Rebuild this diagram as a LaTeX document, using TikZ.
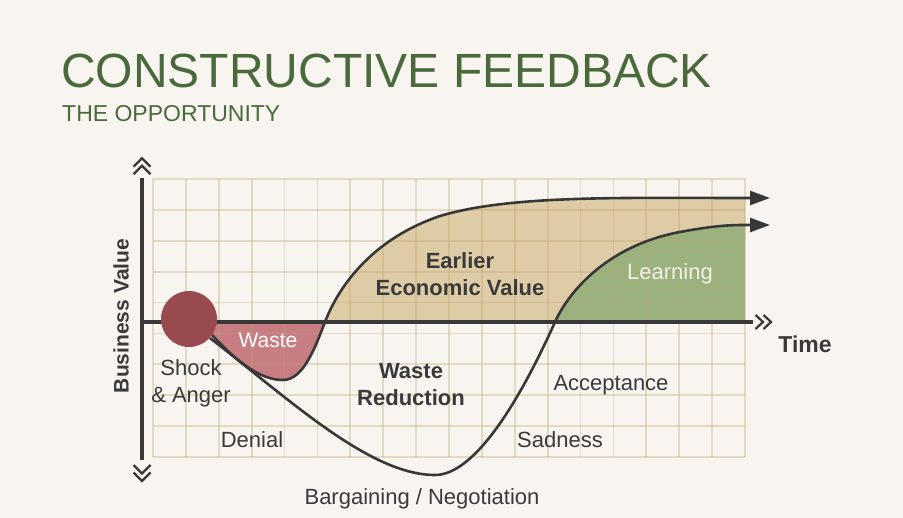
\documentclass[tikz,border=0pt]{standalone}
\usepackage{fontspec}
\setmainfont{Liberation Sans}
\usetikzlibrary{arrows.meta}
\definecolor{bgc}{HTML}{F8F4EF}
\definecolor{gridc}{HTML}{BEA46C}
\definecolor{ink}{HTML}{383838}
\definecolor{lab}{HTML}{3A3A3A}
\definecolor{titlec}{HTML}{4A693C}
\definecolor{wastec}{HTML}{C87D83}
\definecolor{tanc}{HTML}{DDCCA6}
\definecolor{greenc}{HTML}{9BB27F}
\definecolor{shockc}{HTML}{994A4F}
\definecolor{learnc}{HTML}{F0F2E8}
\tikzset{
  gridln/.style={draw=gridc, line width=1.8pt, draw opacity=0.33},
  axisln/.style={draw=ink, line width=4pt},
  curveln/.style={draw=ink, line width=2.6pt},
  chev/.style={draw=ink, line width=2.2pt, line join=miter},
  lbl/.style={text=lab, font=\fontsize{22}{27}\selectfont, inner sep=0pt, align=center},
  blbl/.style={lbl, font=\bfseries\fontsize{22}{27}\selectfont},
  tip/.style={-{Triangle[length=20pt,width=14pt]}},
}
\begin{document}
\begin{tikzpicture}[x=1pt,y=-1pt]
\useasboundingbox (0,0) rectangle (903,518);
\fill[bgc] (0,0) rectangle (903,518);

% fills
\fill[wastec] (200,322) -- (212,335) .. controls (240,365) and (262,380) .. (283,380)
  .. controls (304,380) and (316,345) .. (325,322) -- cycle;
\fill[tanc] (325,322) .. controls (340,283) and (375,238) .. (440,216)
  .. controls (510,195) and (620,198) .. (745,198) -- (745,322) -- cycle;
\fill[greenc] (555,322) .. controls (570,289) and (610,245) .. (680,232)
  .. controls (715,225.5) and (730,225) .. (745,225) -- (745,322) -- cycle;

% grid
\foreach \i in {0,...,18} {
  \draw[gridln] ({153+\i*32.889},179) -- ({153+\i*32.889},457);
}
\foreach \j in {0,...,9} {
  \draw[gridln] (153,{179+\j*30.889}) -- (745,{179+\j*30.889});
}

% axes
\draw[axisln] (142,178) -- (142,460);
\draw[axisln] (140,322) -- (753,322);
\draw[chev] (133.5,166.7) -- (142,158.2) -- (150.5,166.7);
\draw[chev] (133.5,174.2) -- (142,165.7) -- (150.5,174.2);
\draw[chev] (133.5,465) -- (142,473.5) -- (150.5,465);
\draw[chev] (133.5,472.5) -- (142,481) -- (150.5,472.5);
\draw[chev] (755.5,315) -- (763,322) -- (755.5,329);
\draw[chev] (763.5,315) -- (771,322) -- (763.5,329);

% curves
\coordinate (ustart) at (212,335);
\coordinate (uend) at (770,198);
\coordinate (lstart) at (210,338);
\coordinate (lend) at (770,225);
\draw[curveln,tip] (ustart) .. controls (240,365) and (262,380) .. (283,380)
  .. controls (304,380) and (316,345) .. (325,322)
  .. controls (340,283) and (375,238) .. (440,216)
  .. controls (510,195) and (620,198) .. (745,198) -- (uend);
\draw[curveln,tip] (lstart) .. controls (290,400) and (370,475) .. (435,475)
  .. controls (475,475) and (520,400) .. (555,322)
  .. controls (570,289) and (610,245) .. (680,232)
  .. controls (715,225.5) and (730,225) .. (745,225) -- (lend);

% shock circle
\node[circle, fill=shockc, minimum size=56pt, inner sep=0pt] (shock) at (189,319) {};

% titles
\node[anchor=base west, inner sep=0pt, text=titlec, font=\fontsize{48}{56}\selectfont] (title) at (61,88) {CONSTRUCTIVE FEEDBACK};
\node[anchor=base west, inner sep=0pt, text=titlec, font=\fontsize{23}{27}\selectfont] (subtitle) at (62,122) {THE OPPORTUNITY};

% axis labels
\node[blbl, font=\bfseries\fontsize{21}{25}\selectfont, rotate=90] (yl) at (121,316) {Business Value};
\node[blbl, font=\bfseries\fontsize{23}{27}\selectfont, anchor=base] (xl) at (805,353) {Time};

% region labels
\node[blbl] (earlier) at (460,274) {Earlier\\Economic Value};
\node[blbl] (wred) at (411,385) {Waste\\Reduction};
\node[lbl, text=white, font=\fontsize{21}{25}\selectfont, anchor=base] (waste) at (268,348) {Waste};
\node[lbl, text=learnc, anchor=base] (learning) at (670,280) {Learning};

% stage labels
\node[lbl] (shockl) at (191,383) {Shock\\\& Anger};
\node[lbl, anchor=base] (denial) at (252,448) {Denial};
\node[lbl, anchor=base] (accept) at (611,391) {Acceptance};
\node[lbl, anchor=base] (sad) at (560,448) {Sadness};
\node[lbl, anchor=base] (barg) at (422,505) {Bargaining / Negotiation};
\end{tikzpicture}
\end{document}
